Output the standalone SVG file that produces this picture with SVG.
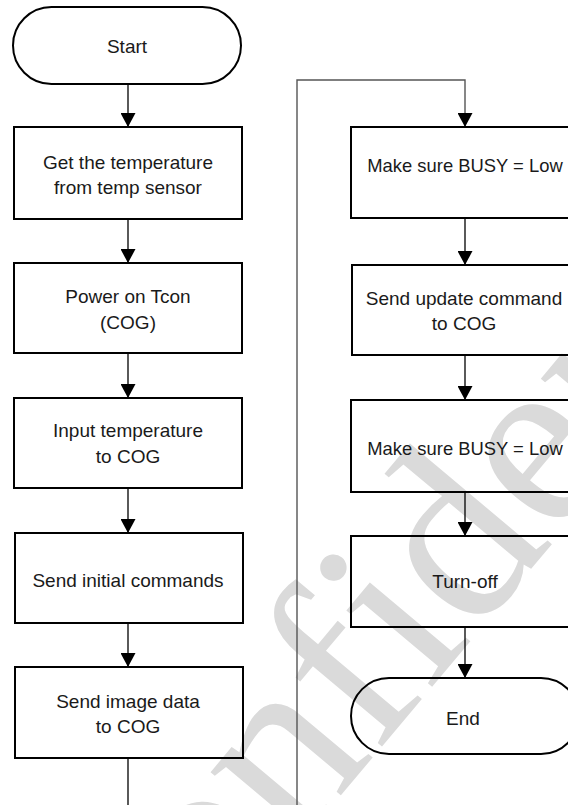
<svg xmlns="http://www.w3.org/2000/svg" width="568" height="805" viewBox="0 0 568 805">
  <style>
    .box { fill: none; stroke: #000; stroke-width: 2; }
    .lbl { font-family: "Liberation Sans", Arial, sans-serif; font-size: 19px; fill: #1a1a1a; text-anchor: middle; }
    .busy { font-size: 18.4px; }
    .wire { fill: none; stroke: #000; stroke-width: 1.3; }
    .loop { fill: none; stroke: #555; stroke-width: 1.4; }
    .wm { font-family: "Liberation Serif", "Times New Roman", serif; font-size: 250px; fill: #dadada; text-anchor: middle; }
  </style>
  <defs>
    <marker id="ah" markerUnits="userSpaceOnUse" markerWidth="16" markerHeight="15" refX="14" refY="7.5" orient="auto">
      <path d="M0,0 L14,7.5 L0,15 Z" fill="#000"/>
    </marker>
  </defs>
  <rect width="568" height="805" fill="#fff"/>
  <text class="wm" x="509" y="595" transform="rotate(-50 509 595)">Confidential</text>

  <g id="connectors">
    <line class="wire" x1="128" y1="84" x2="128" y2="127" marker-end="url(#ah)"/>
    <line class="wire" x1="128" y1="219" x2="128" y2="263" marker-end="url(#ah)"/>
    <line class="wire" x1="128" y1="353" x2="128" y2="398" marker-end="url(#ah)"/>
    <line class="wire" x1="128" y1="488" x2="128" y2="533" marker-end="url(#ah)"/>
    <line class="wire" x1="128" y1="623" x2="128" y2="667" marker-end="url(#ah)"/>
    <line class="wire" x1="128" y1="758" x2="128" y2="805"/>
    <polyline class="loop" points="297,805 297,80 465,80 465,127" marker-end="url(#ah)"/>
    <line class="wire" x1="465" y1="218" x2="465" y2="265" marker-end="url(#ah)"/>
    <line class="wire" x1="465" y1="355" x2="465" y2="400" marker-end="url(#ah)"/>
    <line class="wire" x1="465" y1="492" x2="465" y2="536" marker-end="url(#ah)"/>
    <line class="wire" x1="465" y1="627" x2="465" y2="678" marker-end="url(#ah)"/>
  </g>

  <g id="start">
    <rect class="box" x="13" y="7" width="228" height="77" rx="38.5"/>
    <text class="lbl" x="127" y="53">Start</text>
  </g>
  <g id="get-temp">
    <rect class="box" x="14" y="127" width="228" height="92"/>
    <text class="lbl" x="128" y="169">Get the temperature</text>
    <text class="lbl" x="128" y="194">from temp sensor</text>
  </g>
  <g id="power-on">
    <rect class="box" x="14" y="263" width="228" height="90"/>
    <text class="lbl" x="128" y="303">Power on Tcon</text>
    <text class="lbl" x="128" y="329">(COG)</text>
  </g>
  <g id="input-temp">
    <rect class="box" x="14" y="398" width="228" height="90"/>
    <text class="lbl" x="128" y="437">Input temperature</text>
    <text class="lbl" x="128" y="463">to COG</text>
  </g>
  <g id="init-cmds">
    <rect class="box" x="15" y="533" width="228" height="90"/>
    <text class="lbl" x="128" y="587">Send initial commands</text>
  </g>
  <g id="image-data">
    <rect class="box" x="15" y="667" width="228" height="91"/>
    <text class="lbl" x="128" y="708">Send image data</text>
    <text class="lbl" x="128" y="733">to COG</text>
  </g>

  <g id="busy-1">
    <rect class="box" x="351" y="127" width="228" height="91"/>
    <text class="lbl busy" x="465" y="172">Make sure BUSY = Low</text>
  </g>
  <g id="update-cmd">
    <rect class="box" x="352" y="265" width="228" height="90"/>
    <text class="lbl" x="464" y="305">Send update command</text>
    <text class="lbl" x="464" y="330">to COG</text>
  </g>
  <g id="busy-2">
    <rect class="box" x="351" y="400" width="228" height="92"/>
    <text class="lbl busy" x="465" y="455">Make sure BUSY = Low</text>
  </g>
  <g id="turn-off">
    <rect class="box" x="351" y="536" width="228" height="91"/>
    <text class="lbl" x="465" y="588">Turn-off</text>
  </g>
  <g id="end">
    <rect class="box" x="351" y="678" width="228" height="76" rx="38"/>
    <text class="lbl" x="463" y="725">End</text>
  </g>
</svg>
